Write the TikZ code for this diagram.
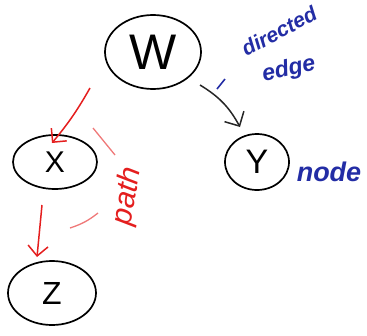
\documentclass[tikz,border=0pt]{standalone}
\usepackage{fontspec}
\setmainfont{Liberation Sans}
\usetikzlibrary{arrows.meta,shapes.geometric}
\definecolor{penblue}{RGB}{35,45,165}
\definecolor{penred}{RGB}{228,30,30}
\begin{document}
\begin{tikzpicture}[x=1pt,y=-1pt,
  vnode/.style={draw=black,line width=1.7pt,ellipse,inner sep=0pt},
  blackedge/.style={draw=black!85,line width=1.5pt,-{Straight Barb[length=11pt,width=22pt,line width=1.5pt]}},
  rededge/.style={draw=penred,line width=1.5pt,-{Straight Barb[length=10pt,width=20pt,line width=1.5pt]}},
  reddash/.style={draw=penred!60!white,line width=1.3pt},
  bluenote/.style={text=penblue,inner sep=0pt},
  rednote/.style={text=penred,inner sep=0pt}]
\useasboundingbox (0,0) rectangle (367,335);
% nodes
\node[vnode,minimum width=96pt,minimum height=74pt,font=\fontsize{50}{50}\selectfont] (w) at (153,52) {W};
\node[vnode,minimum width=84pt,minimum height=54pt,font=\fontsize{30}{30}\selectfont] (x) at (55,162) {X};
\node[vnode,minimum width=64pt,minimum height=56pt,font=\fontsize{34}{34}\selectfont] (y) at (257,162) {Y};
\node[vnode,minimum width=88pt,minimum height=64pt,font=\fontsize{32}{32}\selectfont] (z) at (52,293) {Z};
% edges
\coordinate (wy0) at (200,85);
\coordinate (wy1) at (240,127);
\draw[blackedge] (wy0) to[bend left=15] (wy1);
\coordinate (wx0) at (90,88);
\coordinate (wx1) at (52,143);
\draw[rededge] (wx0) to[bend left=5] (wx1);
\coordinate (xz0) at (42,205);
\coordinate (xz1) at (37,257);
\draw[rededge] (xz0) -- (xz1);
% path annotation
\coordinate (pd1a) at (93,128);
\coordinate (pd1b) at (115,155);
\coordinate (pd2a) at (70,228);
\coordinate (pd2b) at (98,213);
\draw[reddash] (pd1a) -- (pd1b);
\draw[reddash] (pd2a) to[bend right=10] (pd2b);
\node[rednote,rotate=80,font=\itshape\fontsize{30}{30}\selectfont] (pathlbl) at (128,196) {path};
% blue notes
\coordinate (bd0) at (217,89);
\coordinate (bd1) at (225,79);
\draw[penblue,line width=1.6pt] (bd0) -- (bd1);
\node[bluenote,rotate=28,font=\bfseries\itshape\fontsize{21}{21}\selectfont] (dir) at (279,31) {directed};
\node[bluenote,rotate=12,font=\bfseries\itshape\fontsize{23}{23}\selectfont] (edge) at (289,70) {edge};
\node[bluenote,font=\bfseries\itshape\fontsize{27}{27}\selectfont] (nd) at (329,172) {node};
\end{tikzpicture}
\end{document}
